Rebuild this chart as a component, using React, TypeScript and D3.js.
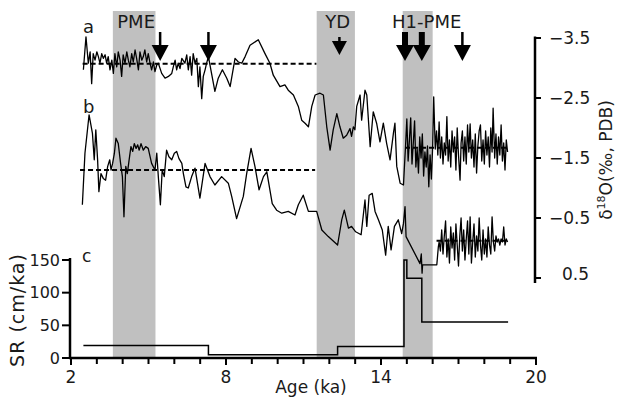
import React from 'react';
import * as d3 from 'd3';

const W = 618;
const H = 400;
const FONT = '"DejaVu Sans", Verdana, sans-serif';

// ages (ka) and axis ticks
const AGE_LABELS = [2, 8, 14, 20];
const D18O_TICKS = [-3.5, -2.5, -1.5, -0.5, 0.5];
const SR_TICKS = [0, 50, 100, 150];

// shaded events
const BANDS = [
  { name: 'PME', from: 3.62, to: 5.27 },
  { name: 'YD', from: 11.51, to: 12.99 },
  { name: 'H1-PME', from: 14.84, to: 16.0 },
];

// arrows marking events
const ARROW_AGES = [5.45, 7.32, 12.39, 14.93, 15.58, 17.15];
const ARROW_KIND = ['thin', 'thin', 'short', 'bold', 'bold', 'thin'];

// record a: delta18O (per mil PDB) vs age (ka)
const SERIES_A: [number, number][] = [
  [2.48, -2.97], [2.58, -3.52], [2.67, -3.08], [2.74, -3.27], [2.80, -2.74], [2.86, -3.24], [2.93, -3.13],
  [3.00, -3.27], [3.06, -3.19], [3.12, -3.08], [3.19, -3.24], [3.25, -3.16], [3.32, -3.22], [3.38, -3.08],
  [3.44, -3.19], [3.51, -2.97], [3.58, -3.13], [3.64, -2.91], [3.70, -3.24], [3.77, -3.02], [3.83, -3.27],
  [3.90, -3.13], [3.96, -2.86], [4.02, -3.22], [4.09, -3.08], [4.16, -3.27], [4.22, -3.13], [4.28, -3.02],
  [4.35, -3.24], [4.41, -3.10], [4.48, -3.30], [4.54, -3.16], [4.61, -2.97], [4.67, -3.27], [4.74, -3.13],
  [4.80, -3.19], [4.86, -3.30], [4.93, -3.10], [4.99, -3.24], [5.06, -3.08], [5.12, -2.97], [5.19, -3.10],
  [5.25, -2.94], [5.32, -3.05], [5.38, -3.08], [5.45, -2.99], [5.51, -2.91], [5.64, -2.83], [5.77, -2.86],
  [5.90, -2.91], [5.96, -3.02], [6.03, -3.13], [6.09, -2.97], [6.15, -3.08], [6.22, -2.99], [6.29, -3.16],
  [6.41, -3.08], [6.48, -3.22], [6.54, -2.97], [6.61, -3.19], [6.67, -2.88], [6.73, -3.24], [6.80, -3.08],
  [6.87, -3.16], [6.93, -2.69], [6.99, -3.02], [7.06, -2.49], [7.12, -2.86], [7.19, -2.97], [7.25, -3.08],
  [7.32, -3.19], [7.44, -2.91], [7.57, -2.61], [7.70, -2.83], [7.86, -2.97], [8.03, -2.83], [8.16, -2.69],
  [8.35, -3.16], [8.48, -3.10], [8.61, -3.08], [8.74, -3.19], [8.93, -3.38], [9.25, -3.47], [9.51, -3.24],
  [9.70, -3.08], [9.83, -2.88], [10.09, -2.69], [10.28, -2.72], [10.41, -2.63], [10.61, -2.55], [10.80, -2.36],
  [10.93, -2.13], [11.06, -2.08], [11.19, -2.02], [11.32, -2.36], [11.45, -2.55], [11.64, -2.58], [11.77, -2.55],
  [11.90, -2.02], [12.03, -1.63], [12.15, -1.97], [12.29, -2.24], [12.41, -2.02], [12.54, -1.83], [12.67, -1.88],
  [12.80, -1.99], [12.86, -1.86], [12.93, -2.02], [12.99, -1.97], [13.06, -2.36], [13.19, -2.55], [13.25, -2.13],
  [13.38, -2.63], [13.45, -2.55], [13.58, -1.69], [13.70, -2.27], [13.83, -2.08], [13.96, -1.77], [14.09, -2.08],
  [14.22, -1.74], [14.35, -1.47], [14.48, -1.91], [14.54, -2.08], [14.61, -1.36], [14.74, -1.08], [14.87, -1.05],
  [14.90, -1.30], [14.95, -1.70], [15.00, -2.15], [15.05, -1.45], [15.10, -1.80], [15.15, -2.17], [15.20, -1.40],
  [15.25, -1.75], [15.30, -2.12], [15.35, -1.35], [15.40, -1.65], [15.45, -1.25], [15.50, -1.85], [15.55, -1.50],
  [15.60, -1.90], [15.65, -1.20], [15.70, -1.60], [15.75, -1.35], [15.80, -1.70], [15.85, -1.02], [15.90, -1.55],
  [15.95, -1.15], [16.00, -1.70], [16.04, -2.52], [16.10, -1.65], [16.15, -1.95], [16.20, -1.55], [16.25, -2.10],
  [16.30, -1.50], [16.35, -1.85], [16.40, -1.40], [16.45, -1.75], [16.50, -1.55], [16.55, -2.19], [16.60, -1.45],
  [16.65, -1.80], [16.70, -1.35], [16.75, -1.95], [16.80, -1.60], [16.85, -1.85], [16.90, -1.30], [16.95, -2.00],
  [17.00, -1.55], [17.06, -1.13], [17.10, -1.75], [17.15, -1.95], [17.20, -1.45], [17.25, -1.85], [17.30, -1.40],
  [17.35, -2.05], [17.40, -1.60], [17.45, -2.07], [17.50, -1.50], [17.55, -1.80], [17.60, -1.35], [17.65, -1.90],
  [17.70, -1.25], [17.75, -1.70], [17.80, -1.95], [17.85, -2.05], [17.90, -1.45], [17.95, -1.80], [18.00, -1.40],
  [18.05, -1.95], [18.10, -1.55], [18.15, -1.85], [18.20, -1.35], [18.25, -2.00], [18.30, -1.60], [18.34, -2.33],
  [18.40, -1.50], [18.45, -1.90], [18.50, -1.40], [18.55, -1.85], [18.60, -1.55], [18.65, -2.05], [18.70, -1.45],
  [18.75, -1.75], [18.80, -1.30], [18.85, -1.80], [18.90, -1.60],
];

// record b
const SERIES_B: [number, number][] = [
  [2.44, -0.72], [2.54, -1.58], [2.70, -2.22], [2.83, -1.91], [2.90, -1.47], [2.96, -1.97], [3.03, -1.47],
  [3.08, -0.94], [3.16, -1.24], [3.25, -1.16], [3.34, -1.13], [3.42, -1.36], [3.50, -1.47], [3.55, -1.30],
  [3.61, -1.41], [3.68, -1.58], [3.74, -1.83], [3.83, -1.74], [3.92, -1.41], [3.99, -1.19], [4.05, -0.52],
  [4.12, -1.36], [4.18, -1.24], [4.25, -1.47], [4.32, -1.69], [4.39, -1.61], [4.45, -1.74], [4.52, -1.66],
  [4.58, -1.72], [4.64, -1.63], [4.71, -1.74], [4.80, -1.63], [4.89, -1.69], [4.99, -1.66], [5.12, -1.41],
  [5.25, -1.30], [5.32, -1.58], [5.38, -1.19], [5.46, -0.72], [5.53, -1.30], [5.61, -1.19], [5.70, -1.63],
  [5.79, -1.52], [5.90, -1.47], [6.00, -1.58], [6.09, -1.61], [6.18, -1.49], [6.29, -1.41], [6.35, -1.24],
  [6.45, -1.02], [6.54, -1.00], [6.67, -1.19], [6.80, -1.33], [6.99, -0.83], [7.19, -1.41], [7.38, -1.19],
  [7.57, -1.05], [7.83, -1.19], [8.09, -1.08], [8.22, -0.86], [8.41, -0.49], [8.67, -0.86], [8.80, -1.24],
  [8.97, -1.66], [9.12, -1.36], [9.28, -0.97], [9.45, -1.19], [9.58, -1.27], [9.79, -0.74], [9.96, -0.63],
  [10.16, -0.58], [10.41, -0.61], [10.67, -0.55], [10.80, -0.72], [10.99, -0.88], [11.19, -0.61], [11.38, -0.61],
  [11.51, -0.61], [11.71, -0.30], [11.96, -0.19], [12.32, -0.05], [12.48, -0.47], [12.58, -0.63], [12.74, -0.33],
  [12.86, -0.36], [13.02, -0.27], [13.23, -0.22], [13.38, -0.80], [13.45, -0.36], [13.54, -0.88], [13.66, -0.91],
  [13.77, -0.61], [13.90, -0.47], [14.05, -0.30], [14.18, 0.12], [14.28, -0.36], [14.39, 0.03], [14.52, -0.36],
  [14.67, -0.47], [14.80, -0.24], [14.87, -0.41], [14.93, -0.69], [14.97, -0.19], [15.51, 0.26], [15.56, 0.10],
  [15.59, 0.42], [15.61, 0.28], [16.16, 0.28], [16.22, -0.02], [16.25, -0.10], [16.30, 0.05], [16.35, -0.30],
  [16.40, 0.10], [16.45, -0.20], [16.50, -0.45], [16.55, 0.15], [16.60, -0.15], [16.65, 0.25], [16.70, -0.35],
  [16.75, 0.00], [16.80, -0.25], [16.85, 0.20], [16.90, -0.40], [16.95, -0.05], [17.00, 0.30], [17.05, -0.20],
  [17.10, -0.50], [17.15, 0.05], [17.20, -0.30], [17.25, 0.20], [17.30, -0.15], [17.35, -0.45], [17.40, 0.10],
  [17.45, -0.52], [17.50, 0.25], [17.55, -0.10], [17.60, -0.40], [17.65, 0.15], [17.70, -0.20], [17.75, 0.05],
  [17.80, -0.50], [17.85, -0.05], [17.90, 0.20], [17.95, -0.30], [18.00, 0.10], [18.05, -0.15], [18.10, 0.15],
  [18.15, -0.35], [18.20, -0.05], [18.25, 0.10], [18.30, -0.52], [18.35, -0.10], [18.40, 0.05], [18.45, -0.20],
  [18.50, -0.10], [18.55, -0.15], [18.60, -0.05], [18.65, -0.15], [18.70, -0.10], [18.75, -0.35], [18.80, -0.05],
  [18.85, -0.15], [18.90, -0.10],
];

// mean levels (dashed)
const MEAN_A = [
  { from: 2.45, to: 11.5, v: -3.07 },
  { from: 14.93, to: 18.85, v: -1.67 },
];
const MEAN_B = [
  { from: 2.35, to: 11.45, v: -1.3 },
  { from: 16.15, to: 18.92, v: -0.12 },
];

// c: sedimentation rate steps
const SR_AGES = [2.48, 7.32, 12.32, 14.89, 15.0, 15.58, 18.92];
const SR_VALUES = [19, 5, 17.5, 150, 122, 55, 55];

export default function App() {
  const x = d3.scaleLinear().domain([2, 20]).range([71, 536]);
  const yIso = d3.scaleLinear().domain([-3.5, 0.5]).range([38, 278]);
  const ySR = d3.scaleLinear().domain([0, 150]).range([358, 260]);

  const isoLine = d3.line<[number, number]>().x((d) => x(d[0])).y((d) => yIso(d[1]));
  const srLine = d3.line<number>()
    .x((_, i) => x(SR_AGES[i]))
    .y((d) => ySR(d))
    .curve(d3.curveStepAfter);

  const minorTicks = d3.range(2, 21);
  const bandTop = 11;
  const ink = '#1a1a1a';

  return (
    <svg width={W} height={H} style={{ position: 'absolute', left: 0, top: 0, background: '#fff' }} fontFamily={FONT}>
      {/* shaded bands */}
      {BANDS.map((b) => (
        <rect key={b.name} x={x(b.from)} y={bandTop} width={x(b.to) - x(b.from)} height={ySR(0) - bandTop} fill="#c0c0c0" />
      ))}
      {BANDS.map((b) => (
        <text key={b.name + 't'} x={(x(b.from) + x(b.to)) / 2 + (b.name === 'H1-PME' ? 9 : 2)} y={28}
          textAnchor="middle" fontSize={18} fill={ink}>{b.name}</text>
      ))}

      {/* arrows */}
      {ARROW_AGES.map((a, i) => {
        const cx = x(a);
        const kind = ARROW_KIND[i];
        const top = kind === 'short' ? 37 : 32;
        const headTop = kind === 'short' ? 41 : 45;
        const headBot = kind === 'short' ? 55 : 61;
        const hw = kind === 'short' ? 7.5 : kind === 'bold' ? 9 : 8.5;
        const sw = kind === 'bold' ? 6 : 2.5;
        return (
          <g key={i}>
            <line x1={cx} x2={cx} y1={top} y2={headTop + 2} stroke="#000" strokeWidth={sw} />
            <path d={`M${cx - hw},${headTop}L${cx + hw},${headTop}L${cx},${headBot}Z`} fill="#000" />
          </g>
        );
      })}

      {/* dashed means */}
      {[...MEAN_A, ...MEAN_B].map((m, i) => (
        <line key={'m' + i} x1={x(m.from)} x2={x(m.to)} y1={yIso(m.v)} y2={yIso(m.v)}
          stroke="#000" strokeWidth={2} strokeDasharray="5,3" />
      ))}

      {/* records */}
      <path d={isoLine(SERIES_A) || ''} fill="none" stroke="#000" strokeWidth={1.3} strokeLinejoin="round" />
      <path d={isoLine(SERIES_B) || ''} fill="none" stroke="#000" strokeWidth={1.3} strokeLinejoin="round" />
      <path d={srLine(SR_VALUES) || ''} fill="none" stroke="#000" strokeWidth={1.5} />

      {/* panel letters */}
      <text x={83} y={33} fontSize={18} fill={ink}>a</text>
      <text x={83} y={113} fontSize={18} fill={ink}>b</text>
      <text x={82} y={262} fontSize={17} fill={ink}>c</text>

      {/* right axis */}
      <line x1={535} x2={535} y1={yIso(-3.5) - 1.5} y2={yIso(0.5) + 5} stroke="#000" strokeWidth={2.5} />
      {D18O_TICKS.map((t) => (
        <g key={t}>
          <line x1={535} x2={541} y1={yIso(t)} y2={yIso(t)} stroke="#000" strokeWidth={2} />
          <text x={t > 0 ? 562 : 549} y={yIso(t) - (t > 0 ? 4 : 0)} dy="0.35em" fontSize={17} fill={ink}>
            {t < 0 ? '\u2212' + Math.abs(t).toFixed(1) : t.toFixed(1)}
          </text>
        </g>
      ))}
      <text transform={`translate(612,160) rotate(-90)`} textAnchor="middle" fontSize={17} fill={ink}>
        δ<tspan fontSize={11} dy={-7}>18</tspan><tspan dy={7}>O(‰, PDB)</tspan>
      </text>

      {/* left SR axis */}
      <line x1={70} x2={70} y1={258} y2={ySR(0)} stroke="#000" strokeWidth={2.5} />
      {SR_TICKS.map((t) => (
        <g key={t}>
          <line x1={62} x2={70} y1={ySR(t)} y2={ySR(t)} stroke="#000" strokeWidth={2} />
          <text x={60} y={ySR(t)} dy="0.35em" textAnchor="end" fontSize={16} fill={ink}>{t}</text>
        </g>
      ))}
      <text transform={`translate(24,310) rotate(-90)`} textAnchor="middle" fontSize={19} letterSpacing={1} fill={ink}>
        SR (cm/ka)
      </text>

      {/* bottom age axis */}
      <line x1={69} x2={537} y1={ySR(0)} y2={ySR(0)} stroke="#000" strokeWidth={2.5} />
      {minorTicks.map((t) => (
        <line key={t} x1={x(t)} x2={x(t)} y1={ySR(0)} y2={ySR(0) + (AGE_LABELS.includes(t) ? 7 : 6)} stroke="#000" strokeWidth={2} />
      ))}
      {AGE_LABELS.map((t) => (
        <text key={t} x={x(t)} y={383} textAnchor="middle" fontSize={17} fill={ink}>{t}</text>
      ))}
      <text x={311} y={393} textAnchor="middle" fontSize={17} fill={ink}>Age (ka)</text>
    </svg>
  );
}
